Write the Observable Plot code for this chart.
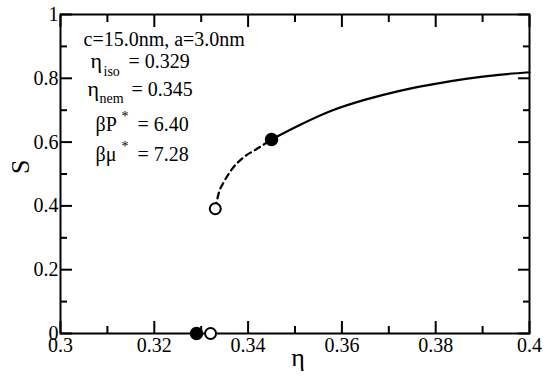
<!DOCTYPE html>
<html><head><meta charset="utf-8">
<script src="https://cdn.jsdelivr.net/npm/d3@7"></script>
<script src="https://cdn.jsdelivr.net/npm/@observablehq/plot@0.6"></script>
<style>
body{margin:0;background:#fff}
svg text { font-family: "Liberation Serif", serif !important; }
</style>
</head><body><div id="chart"></div>
<script>
// Nematic branch (stable, solid)
const solidEta = [0.345, 0.3508, 0.3579, 0.3650, 0.3721, 0.3793, 0.3864, 0.3935, 0.4];
const solidS   = [0.608, 0.652, 0.699, 0.733, 0.760, 0.781, 0.798, 0.811, 0.819];
// Metastable branch (dashed)
const dashEta = [0.333, 0.3338, 0.3348, 0.3366, 0.3391, 0.3419, 0.345];
const dashS   = [0.391, 0.443, 0.474, 0.516, 0.553, 0.579, 0.608];
// Coexistence points
const filledEta = [0.329, 0.345];
const filledS   = [0, 0.608];
const openEta = [0.332, 0.333];
const openS   = [0, 0.391];
// Ticks
const xMajor = [0.3, 0.32, 0.34, 0.36, 0.38, 0.4];
const xMinor = [0.31, 0.33, 0.35, 0.37, 0.39];
const yMajor = [0, 0.2, 0.4, 0.6, 0.8, 1];
const yMinor = [0.1, 0.3, 0.5, 0.7, 0.9];
const xTickLabels = ["0.3", "0.32", "0.34", "0.36", "0.38", "0.4"];
const yTickLabels = ["0", "0.2", "0.4", "0.6", "0.8", "1"];
// Labels
const xLabel = "η";
const yLabel = "S";
const paramLine = "c=15.0nm, a=3.0nm";
const etaSym = "η";
const isoSub = "iso";
const nemSub = "nem";
const isoVal = "= 0.329";
const nemVal = "= 0.345";
const betaP = "βP";
const betaMu = "βμ";
const star = "*";
const pVal = "= 6.40";
const muVal = "= 7.28";

const FONT = "Liberation Serif";
const ML = 60, MT = 14;
const toRows = (xs, ys) => xs.map((x, i) => ({x, y: ys[i]}));

function ann(t, px, baseline, size) {
  return Plot.text([t], {
    frameAnchor: "top-left", dx: px - ML, dy: baseline - MT,
    text: d => d, textAnchor: "start", lineAnchor: "bottom",
    fontSize: size, fontFamily: FONT, fill: "black"
  });
}

const chart = Plot.plot({
  width: 550, height: 382,
  marginLeft: ML, marginRight: 21, marginTop: MT, marginBottom: 49,
  x: {domain: [0.3, 0.4]},
  y: {domain: [0, 1]},
  marks: [
    // tick labels
    Plot.axisX(xMajor, {anchor: "bottom", tickSize: 0, tickPadding: 4, fontSize: 20, fontFamily: FONT, fill: "black",
      tickFormat: d => xTickLabels[xMajor.indexOf(d)], label: null}),
    Plot.axisY(yMajor, {anchor: "left", tickSize: 0, tickPadding: 2, fontSize: 20, fontFamily: FONT, fill: "black",
      tickFormat: d => yTickLabels[yMajor.indexOf(d)], label: null}),
    // inward ticks
    Plot.axisX(xMajor, {anchor: "bottom", tickSize: -12, text: null, strokeWidth: 2, stroke: "black", label: null}),
    Plot.axisX(xMinor, {anchor: "bottom", tickSize: -7, text: null, strokeWidth: 2, stroke: "black", label: null}),
    Plot.axisX(xMajor, {anchor: "top", tickSize: -12, text: null, strokeWidth: 2, stroke: "black", label: null}),
    Plot.axisX(xMinor, {anchor: "top", tickSize: -7, text: null, strokeWidth: 2, stroke: "black", label: null}),
    Plot.axisY(yMajor, {anchor: "left", tickSize: -12, text: null, strokeWidth: 2, stroke: "black", label: null}),
    Plot.axisY(yMinor, {anchor: "left", tickSize: -7, text: null, strokeWidth: 2, stroke: "black", label: null}),
    Plot.axisY(yMajor, {anchor: "right", tickSize: -12, text: null, strokeWidth: 2, stroke: "black", label: null}),
    Plot.axisY(yMinor, {anchor: "right", tickSize: -7, text: null, strokeWidth: 2, stroke: "black", label: null}),
    Plot.frame({stroke: "black", strokeWidth: 2}),
    // curves
    Plot.line(toRows(solidEta, solidS), {x: "x", y: "y", stroke: "black", strokeWidth: 2.2, curve: "monotone-x"}),
    Plot.line(toRows(dashEta, dashS), {x: "x", y: "y", stroke: "black", strokeWidth: 2.2, strokeDasharray: "6,4.5", curve: "monotone-x"}),
    // points
    Plot.dot(toRows(filledEta, filledS), {x: "x", y: "y", r: 6, fill: "black", stroke: "black"}),
    Plot.dot(toRows(openEta, openS), {x: "x", y: "y", r: 5.5, fill: "white", stroke: "black", strokeWidth: 2}),
    // axis labels
    Plot.text([xLabel], {frameAnchor: "bottom", dx: 3, dy: 24, text: d => d, lineAnchor: "middle", fontSize: 26, fontFamily: FONT, fill: "black"}),
    Plot.text([yLabel], {frameAnchor: "left", dx: -40, text: d => d, rotate: -90, lineAnchor: "middle", fontSize: 26, fontFamily: FONT, fill: "black"}),
    // annotation block
    ann(paramLine, 83, 45, 20),
    ann(etaSym, 90, 67, 22), ann(isoSub, 103, 75, 14), ann(isoVal, 128, 67, 20),
    ann(etaSym, 87, 95, 22), ann(nemSub, 99, 102, 14), ann(nemVal, 131, 95, 20),
    ann(betaP, 95, 130, 20), ann(star, 121, 120, 14), ann(pVal, 137, 130, 20),
    ann(betaMu, 95, 160, 20), ann(star, 121, 150, 14), ann(muVal, 137, 160, 20)
  ]
});
chart.setAttribute("font-family", FONT);
const svgStyle = document.createElementNS("http://www.w3.org/2000/svg", "style");
svgStyle.textContent = "text, tspan { font-family: 'Liberation Serif', serif !important; }";
chart.insertBefore(svgStyle, chart.firstChild);
d3.select(chart).selectAll("g[font-family]").attr("font-family", FONT);
d3.select(chart).selectAll("text").attr("font-family", FONT).style("font-family", "'Liberation Serif', serif");
document.getElementById("chart").appendChild(chart);
</script>
</body></html>
